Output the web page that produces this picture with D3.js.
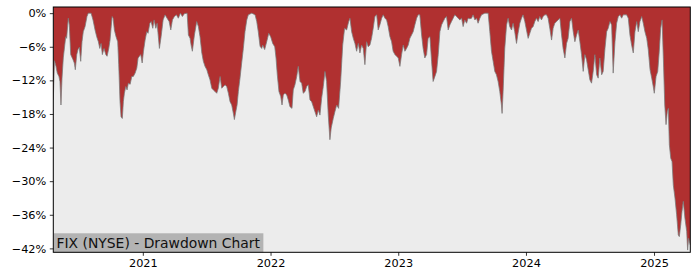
<!DOCTYPE html>
<html>
<head>
<meta charset="utf-8">
<script src="https://cdn.jsdelivr.net/npm/d3@7"></script>
<style>
  body { margin: 0; background: #fff; }
  svg { display: block; font-family: "DejaVu Sans", sans-serif; }
</style>
</head>
<body>
<div class="viz"></div>
<script>
// dates as decimal years, drawdown in percent
var years = [
  2020.301, 2020.310, 2020.322, 2020.332, 2020.345, 2020.353, 2020.361, 2020.369, 2020.379, 2020.398,
  2020.405, 2020.418, 2020.426, 2020.437, 2020.455, 2020.465, 2020.473, 2020.484, 2020.494, 2020.504,
  2020.515, 2020.525, 2020.535, 2020.549, 2020.564, 2020.574, 2020.596, 2020.611, 2020.627, 2020.640,
  2020.653, 2020.664, 2020.674, 2020.684, 2020.697, 2020.711, 2020.721, 2020.734, 2020.744, 2020.760,
  2020.768, 2020.778, 2020.791, 2020.804, 2020.812, 2020.822, 2020.830, 2020.840, 2020.848, 2020.856,
  2020.867, 2020.877, 2020.887, 2020.901, 2020.914, 2020.926, 2020.940, 2020.953, 2020.963, 2020.973,
  2020.984, 2020.995, 2021.005, 2021.018, 2021.031, 2021.041, 2021.055, 2021.065, 2021.078, 2021.088,
  2021.102, 2021.112, 2021.130, 2021.143, 2021.159, 2021.174, 2021.190, 2021.206, 2021.219, 2021.232,
  2021.247, 2021.263, 2021.278, 2021.294, 2021.310, 2021.325, 2021.347, 2021.357, 2021.370, 2021.378,
  2021.388, 2021.404, 2021.422, 2021.435, 2021.448, 2021.462, 2021.474, 2021.487, 2021.501, 2021.513,
  2021.526, 2021.540, 2021.552, 2021.566, 2021.579, 2021.591, 2021.605, 2021.618, 2021.631, 2021.644,
  2021.657, 2021.670, 2021.683, 2021.696, 2021.709, 2021.717, 2021.728, 2021.738, 2021.748, 2021.761,
  2021.774, 2021.787, 2021.800, 2021.814, 2021.826, 2021.853, 2021.879, 2021.892, 2021.904, 2021.918,
  2021.931, 2021.939, 2021.954, 2021.970, 2021.986, 2022.001, 2022.017, 2022.033, 2022.043, 2022.053,
  2022.066, 2022.080, 2022.090, 2022.100, 2022.113, 2022.127, 2022.139, 2022.152, 2022.168, 2022.178,
  2022.191, 2022.205, 2022.217, 2022.231, 2022.244, 2022.256, 2022.270, 2022.283, 2022.295, 2022.309,
  2022.322, 2022.335, 2022.348, 2022.361, 2022.374, 2022.387, 2022.400, 2022.413, 2022.426, 2022.439,
  2022.452, 2022.465, 2022.475, 2022.491, 2022.504, 2022.518, 2022.533, 2022.549, 2022.565, 2022.580,
  2022.596, 2022.612, 2022.622, 2022.635, 2022.648, 2022.661, 2022.674, 2022.687, 2022.700, 2022.713,
  2022.726, 2022.739, 2022.752, 2022.765, 2022.778, 2022.791, 2022.804, 2022.817, 2022.831, 2022.843,
  2022.856, 2022.870, 2022.882, 2022.896, 2022.909, 2022.921, 2022.935, 2022.948, 2022.960, 2022.974,
  2022.987, 2023.000, 2023.013, 2023.026, 2023.039, 2023.052, 2023.065, 2023.078, 2023.091, 2023.104,
  2023.117, 2023.130, 2023.144, 2023.156, 2023.169, 2023.183, 2023.195, 2023.208, 2023.222, 2023.234,
  2023.248, 2023.261, 2023.273, 2023.287, 2023.300, 2023.313, 2023.326, 2023.339, 2023.352, 2023.365,
  2023.378, 2023.391, 2023.404, 2023.417, 2023.430, 2023.443, 2023.456, 2023.469, 2023.482, 2023.496,
  2023.508, 2023.521, 2023.535, 2023.547, 2023.561, 2023.574, 2023.586, 2023.600, 2023.613, 2023.625,
  2023.639, 2023.652, 2023.678, 2023.704, 2023.717, 2023.730, 2023.743, 2023.756, 2023.769, 2023.782,
  2023.795, 2023.808, 2023.813, 2023.821, 2023.834, 2023.848, 2023.860, 2023.873, 2023.887, 2023.899,
  2023.912, 2023.926, 2023.938, 2023.952, 2023.965, 2023.977, 2023.991, 2024.004, 2024.017, 2024.030,
  2024.043, 2024.056, 2024.069, 2024.082, 2024.095, 2024.108, 2024.121, 2024.134, 2024.147, 2024.161,
  2024.173, 2024.186, 2024.200, 2024.212, 2024.225, 2024.239, 2024.251, 2024.265, 2024.278, 2024.290,
  2024.304, 2024.317, 2024.329, 2024.343, 2024.356, 2024.369, 2024.382, 2024.395, 2024.408, 2024.421,
  2024.434, 2024.447, 2024.460, 2024.473, 2024.486, 2024.499, 2024.512, 2024.525, 2024.538, 2024.552,
  2024.564, 2024.577, 2024.591, 2024.603, 2024.617, 2024.630, 2024.642, 2024.656, 2024.669, 2024.681,
  2024.695, 2024.708, 2024.721, 2024.734, 2024.747, 2024.760, 2024.773, 2024.786, 2024.799, 2024.812,
  2024.825, 2024.838, 2024.851, 2024.865, 2024.877, 2024.890, 2024.904, 2024.916, 2024.929, 2024.943,
  2024.955, 2024.969, 2024.982, 2024.994, 2025.002, 2025.016, 2025.029, 2025.041, 2025.052, 2025.063,
  2025.073, 2025.084, 2025.094, 2025.104, 2025.112, 2025.120, 2025.131, 2025.141, 2025.151, 2025.164,
  2025.177, 2025.190, 2025.198, 2025.209, 2025.219, 2025.229, 2025.242, 2025.256, 2025.263, 2025.271,
  2025.284
];

var drawdown = [
  -15.5, -8.5, -9.5, -10.7, -11.3, -12.2, -16.4, -11.6, -8.0, -4.2,
  -4.5, -0.9, -2.1, -7.4, -8.3, -8.9, -10.1, -7.4, -6.5, -6.1,
  -8.6, -5.1, -3.3, -2.4, -0.6, 0, 0, -1.2, -3.0, -4.2,
  -5.1, -6.3, -5.4, -7.4, -6.3, -7.4, -7.7, -6.3, -4.8, -0.6,
  -0.9, -3.0, -4.2, -5.1, -9.2, -15.8, -18.5, -18.8, -15.8, -14.3,
  -13.1, -13.7, -12.5, -12.7, -11.3, -11.3, -10.7, -9.8, -8.0, -7.7,
  -7.4, -8.9, -6.8, -4.8, -3.3, -3.6, -1.8, -1.5, -2.7, -1.2,
  -2.7, -1.8, -6.3, -4.2, -1.2, -0.3, -0.9, -1.5, -3.0, -1.2,
  -0.6, -0.3, -0.9, 0, -0.6, -0.1, 0, -3.9, -4.5, -5.7,
  -6.8, -3.9, -1.5, -2.4, -4.2, -7.1, -8.6, -9.5, -10.1, -11.0,
  -11.9, -13.4, -13.7, -14.0, -14.3, -13.4, -11.3, -13.4, -13.1, -12.8,
  -13.1, -14.3, -15.8, -16.4, -17.9, -19.0, -17.6, -16.4, -14.0, -11.6,
  -8.9, -6.3, -3.3, -1.2, -0.3, 0, -0.3, -1.5, -3.3, -5.9,
  -6.3, -5.7, -6.5, -5.1, -3.6, -4.2, -5.4, -6.0, -8.0, -11.0,
  -14.0, -14.9, -16.4, -14.6, -14.3, -14.6, -15.5, -16.7, -17.0, -13.7,
  -12.8, -11.3, -9.5, -12.2, -12.5, -14.3, -14.0, -13.1, -12.8, -15.5,
  -15.8, -16.7, -17.6, -18.5, -17.3, -18.2, -15.2, -13.1, -10.4, -12.2,
  -18.2, -22.6, -20.5, -18.8, -17.6, -16.4, -17.0, -12.2, -5.7, -2.7,
  -3.0, -1.5, -0.9, -3.3, -4.5, -5.4, -6.8, -5.4, -7.1, -5.7,
  -6.3, -9.2, -5.1, -6.0, -5.7, -4.5, -2.7, -0.6, -0.3, -3.0,
  -2.1, -0.9, -0.3, -0.9, -1.2, -2.4, -4.2, -5.1, -6.8, -7.4,
  -7.7, -8.0, -9.5, -7.4, -5.7, -6.8, -6.3, -5.7, -4.5, -3.9,
  -3.3, -2.1, -0.9, -0.3, -0.3, -3.9, -6.3, -8.0, -7.4, -4.5,
  -4.2, -8.6, -12.2, -11.3, -10.4, -7.4, -3.3, -2.1, -1.5, -0.9,
  -0.6, -3.0, -2.1, -1.5, -0.9, -0.3, -0.6, -0.9, -1.2, -0.9,
  -2.4, -1.2, -1.8, -0.9, -1.0, -0.9, -0.3, -1.2, -0.9, -1.8,
  -0.9, -0.3, 0, 0, -3.3, -6.8, -8.6, -10.4, -11.0, -12.2,
  -14.0, -16.4, -17.9, -14.0, -6.3, -2.1, -0.9, -2.4, -3.0, -1.8,
  -3.3, -5.4, -3.6, -1.8, -0.9, -0.3, -1.5, -3.0, -4.5, -3.6,
  -2.7, -2.4, -1.5, -0.9, -1.5, -0.6, -1.2, -0.6, -0.3, -0.3,
  -0.9, -2.7, -4.8, -2.7, -1.8, -1.5, -1.2, -0.9, -3.9, -6.3,
  -8.0, -5.4, -4.5, -1.5, -0.9, -3.3, -5.1, -3.9, -3.0, -5.1,
  -7.4, -10.4, -7.4, -8.3, -10.1, -11.9, -12.5, -10.4, -7.4, -11.0,
  -11.6, -8.0, -11.0, -10.4, -6.3, -3.3, -2.7, -1.5, -2.1, -10.7,
  -5.1, -1.8, -0.6, -0.3, -0.9, -0.3, -0.3, -0.3, -0.9, -3.9,
  -5.7, -7.1, -3.3, -1.5, -3.3, -1.5, -0.6, -1.8, -3.3, -4.5,
  -6.5, -10.1, -11.6, -13.1, -14.3, -11.3, -10.4, -6.8, -2.7, -1.2,
  -8.0, -16.4, -19.9, -17.6, -17.0, -23.5, -25.9, -26.5, -30.7, -33.0,
  -36.0, -39.6, -39.9, -37.8, -35.4, -33.6, -36.6, -39.0, -42.3, -40.2,
  -41.4
];

var yTicks = [0, -6, -12, -18, -24, -30, -36, -42];
var yDomain = [-42.7, 1.1];
var chartLabel = "FIX (NYSE) - Drawdown Chart";

var margin = {top: 7, right: 9.7, bottom: 27.7, left: 53.3},
    fullWidth = 700,
    fullHeight = 280,
    width = fullWidth - margin.left - margin.right,
    height = fullHeight - margin.top - margin.bottom;

function yearToDate(y) {
    var yr = Math.floor(y),
        start = Date.UTC(yr, 0, 1),
        end = Date.UTC(yr + 1, 0, 1);
    return new Date(start + (y - yr) * (end - start));
}

var data = years.map(function(y, i) {
    return {date: yearToDate(y), value: drawdown[i]};
});

var svg = d3.select('.viz').append('svg')
    .attr('width', fullWidth)
    .attr('height', fullHeight);

var x = d3.scaleUtc()
    .domain(d3.extent(data, function(d) { return d.date; }))
    .range([0, width]);

var y = d3.scaleLinear()
    .domain(yDomain)
    .range([height, 0]);

var g = svg.append('g')
    .attr('transform', 'translate(' + margin.left + ',' + margin.top + ')');

g.append('clipPath')
    .attr('id', 'clip')
    .append('rect')
    .attr('width', width)
    .attr('height', height);

g.append('rect')
    .attr('width', width)
    .attr('height', height)
    .attr('fill', '#ececec');

var area = d3.area()
    .x(function(d) { return x(d.date); })
    .y0(0)
    .y1(function(d) { return y(d.value); });

var line = d3.line()
    .x(function(d) { return x(d.date); })
    .y(function(d) { return y(d.value); });

var plot = g.append('g').attr('clip-path', 'url(#clip)');

plot.append('path')
    .datum(data)
    .attr('d', area)
    .attr('fill', '#b03030');

plot.append('path')
    .datum(data)
    .attr('d', line)
    .attr('fill', 'none')
    .attr('stroke', '#7a7a7a')
    .attr('stroke-opacity', 0.85)
    .attr('stroke-width', 0.9);

// label box bottom left
var label = g.append('g');
var labelText = label.append('text')
    .attr('x', 3.2)
    .attr('y', height - 4.8)
    .attr('font-size', '13.9px')
    .attr('fill', '#111')
    .text(chartLabel);
var bb = labelText.node().getBBox();
label.insert('rect', 'text')
    .attr('x', 0.5)
    .attr('y', height - 19)
    .attr('width', bb.width + 5.5)
    .attr('height', 19)
    .attr('fill', '#b3b3b3');

// axes
var xAxis = d3.axisBottom(x)
    .ticks(d3.utcYear.every(1))
    .tickFormat(d3.utcFormat('%Y'))
    .tickSize(3.5)
    .tickPadding(3.5);

var yAxis = d3.axisLeft(y)
    .tickValues(yTicks)
    .tickFormat(function(d) { return (d < 0 ? '\u2212' + Math.abs(d) : d) + '%'; })
    .tickSize(3.5)
    .tickPadding(3.5);

var gx = g.append('g')
    .attr('transform', 'translate(0,' + height + ')')
    .call(xAxis);

var gy = g.append('g')
    .call(yAxis);

[gx, gy].forEach(function(ax) {
    ax.select('.domain').remove();
    ax.selectAll('.tick line').attr('stroke', '#000').attr('stroke-width', 0.8);
    ax.selectAll('.tick text')
        .attr('fill', '#000')
        .style('font-family', '"DejaVu Sans", sans-serif')
        .style('font-size', '11.3px');
});

g.append('rect')
    .attr('width', width)
    .attr('height', height)
    .attr('fill', 'none')
    .attr('stroke', '#000')
    .attr('stroke-width', 1);
</script>
</body>
</html>
